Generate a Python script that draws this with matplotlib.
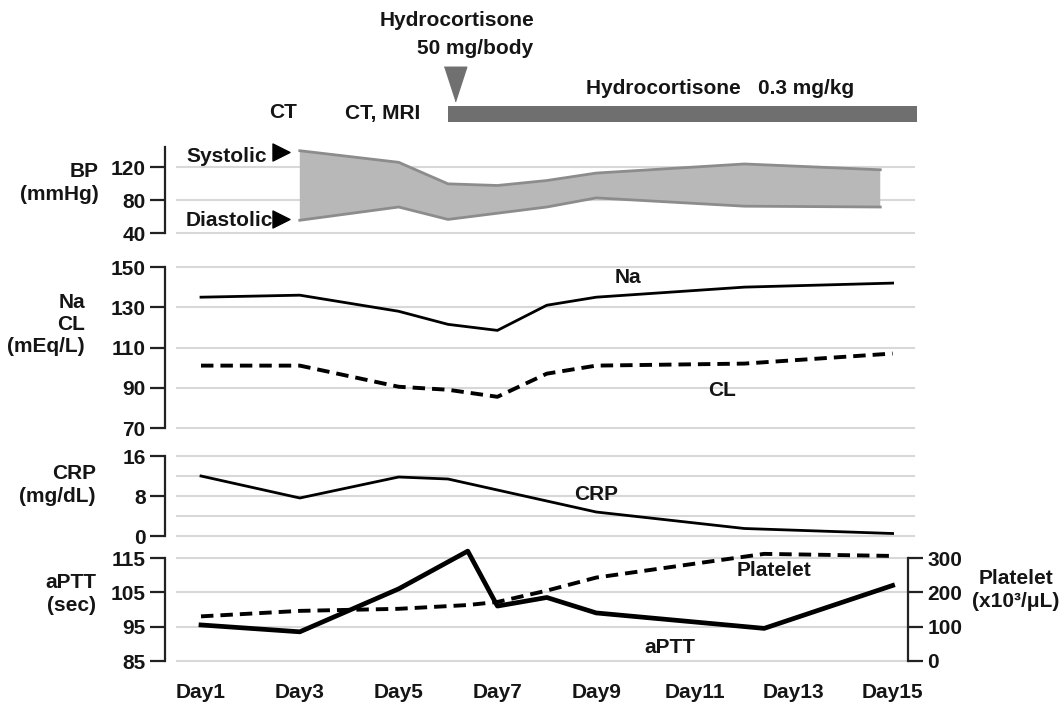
import matplotlib
matplotlib.use("Agg")
import matplotlib.pyplot as plt
import numpy as np

# ---------------- data ----------------
bp_sys_days = [3, 5, 6, 7, 8, 9, 12, 14.75]
bp_sys = [140, 126, 100, 98, 104, 113, 124, 117]
bp_dia_days = [3, 5, 6, 8, 9, 12, 14.75]
bp_dia = [56, 72, 57, 72, 83, 73, 72]

lab_days = [1, 3, 5, 6, 7, 8, 9, 12, 15]
na = [135, 136, 128, 121.5, 118.5, 131, 135, 140, 142]
cl = [101, 101, 90.5, 89, 85.5, 97, 101, 102, 107]
crp = [12, 7.6, 11.8, 11.4, 9.2, 7.0, 4.8, 1.5, 0.5]

coag_days = [1, 3, 5, 6.4, 7, 8, 9, 12.4, 15]
aptt = [95.5, 93.5, 106, 117, 101, 103.5, 99, 94.5, 107]
platelet = [130, 146, 152, 163, 172, 205, 243, 312, 306]

day_ticks = [1, 3, 5, 7, 9, 11, 13, 15]
day_labels = ["Day1", "Day3", "Day5", "Day7", "Day9", "Day11", "Day13", "Day15"]

hc_start, hc_end = 6, 15.5
bolus_day = 6.15

# ---------------- style ----------------
W, H = 1064, 706
FAM = ["Liberation Sans Narrow", "Liberation Sans", "DejaVu Sans"]
plt.rcParams["font.family"] = FAM
plt.rcParams["font.weight"] = "bold"
TXT = "#151515"
FS = 15
GRID = "#d8d8d8"

fig = plt.figure(figsize=(W / 100, H / 100), dpi=100)

XL, XR = 165, 908
def day_of(px):
    return 1 + (px - 201) / 49.4
xlim = (day_of(XL), day_of(XR))

def add_ax(top, bottom):
    return fig.add_axes([XL / W, 1 - bottom / H, (XR - XL) / W, (bottom - top) / H])

def fx(px):
    return px / W
def fy(py):
    return 1 - py / H

gx0 = (177 - XL) / (XR - XL)
gx1 = (914 - XL) / (XR - XL)

def style(ax, ticks, grid):
    ax.set_xlim(*xlim)
    for s in ["top", "right", "bottom"]:
        ax.spines[s].set_visible(False)
    ax.spines["left"].set_linewidth(1.6)
    ax.spines["left"].set_color("#222222")
    ax.set_yticks(ticks)
    ax.tick_params(axis="y", direction="out", length=11, width=1.6, colors="#222222",
                   labelsize=FS, labelcolor=TXT, pad=3)
    ax.tick_params(axis="x", length=0)
    ax.set_xticks([])
    for g in grid:
        ax.axhline(g, xmin=gx0, xmax=gx1, color=GRID, lw=1.5, zorder=0, clip_on=False)
    for lab in ax.get_yticklabels():
        lab.set_fontweight("bold")

# ---------------- top annotation ----------------
axt = fig.add_axes([XL / W, 1 - 140 / H, (XR - XL) / W, 140 / H])
axt.set_xlim(*xlim)
axt.set_ylim(140, 0)
axt.axis("off")
axt.barh(114, hc_end - hc_start, left=hc_start, height=16, color="#6f6f6f", clip_on=False)
tri = [(-0.65, 1), (0.65, 1), (0, -1)]
axt.scatter([bolus_day], [84], marker=tri, s=620, color="#707070", clip_on=False, zorder=3)
fig.text(fx(457), fy(20), "Hydrocortisone", ha="center", va="center", fontsize=FS, color=TXT, fontweight="bold")
fig.text(fx(475), fy(48), "50 mg/body", ha="center", va="center", fontsize=FS, color=TXT, fontweight="bold")
fig.text(fx(720), fy(88), "Hydrocortisone   0.3 mg/kg", ha="center", va="center", fontsize=FS, color=TXT, fontweight="bold")
fig.text(fx(283), fy(112), "CT", ha="center", va="center", fontsize=FS, color=TXT, fontweight="bold")
fig.text(fx(383), fy(113), "CT, MRI", ha="center", va="center", fontsize=FS, color=TXT, fontweight="bold")

# ---------------- BP ----------------
ax1 = add_ax(147, 233.5)
ax1.set_ylim(40, 144.5)
style(ax1, [40, 80, 120], [40, 80, 120])
ax1.fill(np.concatenate([bp_sys_days, bp_dia_days[::-1]]),
         np.concatenate([bp_sys, bp_dia[::-1]]), color="#b8b8b8", lw=0, zorder=1, clip_on=False)
ax1.plot(bp_sys_days, bp_sys, color="#8c8c8c", lw=2, zorder=2, clip_on=False)
ax1.plot(bp_dia_days, bp_dia, color="#8c8c8c", lw=2, zorder=2, clip_on=False)
ax1.scatter([day_of(281)], [bp_sys[0] - 2], marker=">", s=150, color="black", clip_on=False, zorder=4)
ax1.scatter([day_of(281)], [bp_dia[0] + 2], marker=">", s=150, color="black", clip_on=False, zorder=4)
fig.text(fx(186), fy(156), "Systolic", ha="left", va="center", fontsize=FS, color=TXT, fontweight="bold")
fig.text(fx(186), fy(221), "Diastolic", ha="left", va="center", fontsize=FS, color=TXT, fontweight="bold")
fig.text(fx(99), fy(183), "BP\n(mmHg)", ha="right", va="center", multialignment="right",
         fontsize=FS, color=TXT, fontweight="bold", linespacing=1.25)

# ---------------- Na / CL ----------------
ax2 = add_ax(267, 428)
ax2.set_ylim(70, 150)
style(ax2, [70, 90, 110, 130, 150], [70, 90, 110, 130, 150])
ax2.plot(lab_days, na, color="black", lw=2.0, clip_on=False)
ax2.plot(lab_days, cl, color="black", lw=2.8, ls=(0, (3.2, 1.8)), clip_on=False)
ax2.text(day_of(628), 145, "Na", ha="center", va="center", fontsize=FS, color=TXT, fontweight="bold")
ax2.text(day_of(722), 88.7, "CL", ha="center", va="center", fontsize=FS, color=TXT, fontweight="bold")
fig.text(fx(85), fy(325), "Na\nCL\n(mEq/L)", ha="right", va="center", multialignment="right",
         fontsize=FS, color=TXT, fontweight="bold", linespacing=1.2)

# ---------------- CRP ----------------
ax3 = add_ax(456, 536)
ax3.set_ylim(0, 16)
style(ax3, [0, 8, 16], [0, 4, 8, 12, 16])
ax3.plot(lab_days, crp, color="black", lw=2.0, clip_on=False)
ax3.text(day_of(596), 8.2, "CRP", ha="center", va="center", fontsize=FS, color=TXT, fontweight="bold")
fig.text(fx(96), fy(485), "CRP\n(mg/dL)", ha="right", va="center", multialignment="right",
         fontsize=FS, color=TXT, fontweight="bold", linespacing=1.25)

# ---------------- aPTT / Platelet ----------------
ax4 = add_ax(558, 661)
ax4.set_ylim(85, 115)
style(ax4, [85, 95, 105, 115], [85, 95, 105, 115])
ax4.plot(coag_days, aptt, color="black", lw=3.4, zorder=3, clip_on=False)
ax4b = ax4.twinx()
ax4b.set_ylim(0, 300)
for s in ["top", "left", "bottom"]:
    ax4b.spines[s].set_visible(False)
ax4b.spines["right"].set_linewidth(1.6)
ax4b.spines["right"].set_color("#222222")
ax4b.set_yticks([0, 100, 200, 300])
ax4b.tick_params(axis="y", direction="out", length=11, width=1.6, colors="#222222",
                 labelsize=FS, labelcolor=TXT, pad=3)
for lab in ax4b.get_yticklabels():
    lab.set_fontweight("bold")
ax4b.plot(coag_days, platelet, color="black", lw=2.8, ls=(0, (3.2, 1.8)), clip_on=False)
ax4.text(day_of(774), 111.5, "Platelet", ha="center", va="center", fontsize=FS, color=TXT, fontweight="bold")
ax4.text(day_of(670), 88.8, "aPTT", ha="center", va="center", fontsize=FS, color=TXT, fontweight="bold")
fig.text(fx(96), fy(594), "aPTT\n(sec)", ha="right", va="center", multialignment="right",
         fontsize=FS, color=TXT, fontweight="bold", linespacing=1.25)
fig.text(fx(1016), fy(590), "Platelet\n(x10\u00b3/\u03bcL)", ha="center", va="center", multialignment="center",
         fontsize=FS, color=TXT, fontweight="bold", linespacing=1.25)

ax4.set_xticks(day_ticks)
ax4.set_xticklabels(day_labels, fontsize=FS, fontweight="bold", color=TXT)
ax4.tick_params(axis="x", length=0, pad=16)

fig.savefig("out.png", dpi=100)
